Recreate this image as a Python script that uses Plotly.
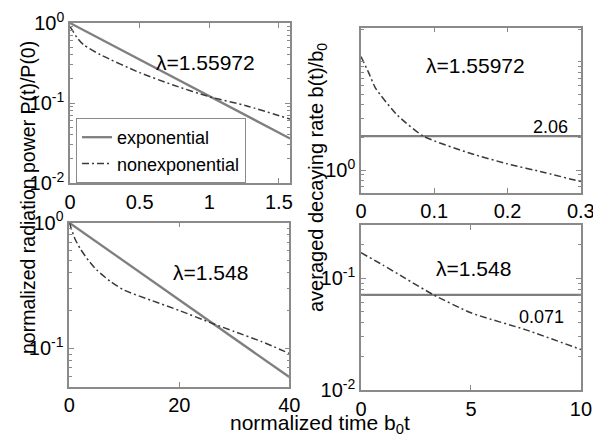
import plotly.graph_objects as go
import math

# ---------------- data ----------------
# top-left: normalized radiation power, lambda = 1.55972
tl_exp_t = [0.0, 1.58]
tl_exp_p = [1.0, 0.036]
tl_non_t = [0.0, 0.02, 0.05, 0.1, 0.22, 0.5, 0.74, 1.0, 1.27, 1.58]
tl_non_p = [0.9, 0.8, 0.66, 0.53, 0.4, 0.24, 0.168, 0.12, 0.092, 0.063]

# top-right: averaged decaying rate, lambda = 1.55972
tr_exp_t = [0.0, 0.3]
tr_exp_b = [2.06, 2.06]
tr_non_t = [0.0, 0.01, 0.02, 0.05, 0.085, 0.15, 0.2, 0.25, 0.3]
tr_non_b = [11.2, 8.1, 5.7, 3.2, 2.06, 1.42, 1.14, 0.95, 0.78]

# bottom-left: normalized radiation power, lambda = 1.548
bl_exp_t = [0.0, 40.0]
bl_exp_p = [1.0, 0.059]
bl_non_t = [0, 1, 2, 3.5, 5, 7.5, 10, 15, 20, 26, 30, 35, 40]
bl_non_p = [1.0, 0.75, 0.62, 0.5, 0.42, 0.34, 0.29, 0.24, 0.20, 0.158, 0.136, 0.113, 0.091]

# bottom-right: averaged decaying rate, lambda = 1.548
br_exp_t = [0.0, 10.0]
br_exp_b = [0.071, 0.071]
br_non_t = [0, 1, 2, 3.3, 5, 7.5, 10]
br_non_b = [0.169, 0.131, 0.1, 0.071, 0.049, 0.0345, 0.023]

series_names = ["exponential", "nonexponential"]
lambda_labels = ["λ=1.55972", "λ=1.548"]
rate_labels = ["2.06", "0.071"]

tl_xticks = [0, 0.5, 1, 1.5]
tr_xticks = [0, 0.1, 0.2, 0.3]
bl_xticks = [0, 20, 40]
br_xticks = [0, 5, 10]
tl_yticks = [1, 0.1, 0.01]
tr_yticks = [1]
bl_yticks = [1, 0.1]
br_yticks = [0.1, 0.01]

# ---------------- styling ----------------
W, H = 593, 441
FONT = "Liberation Sans, Arial, sans-serif"
EXP_COLOR = "#7f7f7f"
NON_COLOR = "#3a3a3a"
AX_COLOR = "#8a8a8a"
NON_DASH = "7px,3px,2px,3px"


def px_x(p):
    return p / W


def px_y(p):
    return 1 - p / H


def pow_label(v):
    e = int(round(math.log10(v)))
    return "10<sup>%d</sup>" % e


def fmt(v):
    return "%g" % v


fig = go.Figure()

panels = [
    ("x", "y", tl_exp_t, tl_exp_p, tl_non_t, tl_non_p, True),
    ("x2", "y2", tr_exp_t, tr_exp_b, tr_non_t, tr_non_b, False),
    ("x3", "y3", bl_exp_t, bl_exp_p, bl_non_t, bl_non_p, False),
    ("x4", "y4", br_exp_t, br_exp_b, br_non_t, br_non_b, False),
]
for xa, ya, et, ev, nt, nv, show in panels:
    fig.add_trace(go.Scatter(x=et, y=ev, xaxis=xa, yaxis=ya, mode="lines",
                             name=series_names[0], showlegend=show,
                             line=dict(color=EXP_COLOR, width=2.3)))
    fig.add_trace(go.Scatter(x=nt, y=nv, xaxis=xa, yaxis=ya, mode="lines",
                             name=series_names[1], showlegend=show,
                             line=dict(color=NON_COLOR, width=1.5, dash=NON_DASH,
                                       shape="spline", smoothing=0.6)))

common_x = dict(ticks="inside", ticklen=5, tickcolor=AX_COLOR, showline=True,
                linecolor=AX_COLOR, linewidth=1.5, mirror="ticks", showgrid=False,
                zeroline=False, tickfont=dict(size=20, color="black", family=FONT),
                tickmode="array", automargin=False, ticklabeloverflow="allow")
common_y = dict(type="log", ticks="inside", ticklen=5, tickcolor=AX_COLOR, showline=True,
                linecolor=AX_COLOR, linewidth=1.5, mirror="ticks", showgrid=False,
                zeroline=False, tickfont=dict(size=20, color="black", family=FONT),
                tickmode="array", automargin=False, ticklabeloverflow="allow",
                minor=dict(ticks="inside", ticklen=3, tickcolor=AX_COLOR, dtick="D1",
                           showgrid=False))

fig.update_layout(
    width=W, height=H, margin=dict(l=0, r=0, t=0, b=0, pad=0),
    paper_bgcolor="white", plot_bgcolor="white",
    font=dict(family=FONT, size=20, color="black"),
    xaxis=dict(common_x, domain=[px_x(70), px_x(290)], range=[0, 1.58], anchor="y",
               tickvals=tl_xticks, ticktext=[fmt(v) for v in tl_xticks]),
    yaxis=dict(common_y, domain=[px_y(183), px_y(23)], range=[-2.0005, 0.0005], anchor="x",
               tickvals=tl_yticks, ticktext=[pow_label(v) for v in tl_yticks]),
    xaxis2=dict(common_x, domain=[px_x(361), px_x(581)], range=[0, 0.3002], anchor="y2",
                tickvals=tr_xticks, ticktext=[fmt(v) for v in tr_xticks]),
    yaxis2=dict(common_y, domain=[px_y(192.7), px_y(27.7)], range=[-0.21, 1.317], anchor="x2",
                tickvals=tr_yticks, ticktext=[pow_label(v) for v in tr_yticks]),
    xaxis3=dict(common_x, domain=[px_x(69.3), px_x(289.3)], range=[0, 40.01], anchor="y3",
                tickvals=bl_xticks, ticktext=[fmt(v) for v in bl_xticks]),
    yaxis3=dict(common_y, domain=[px_y(386.7), px_y(222.7)], range=[-1.306, 0.0005], anchor="x3",
                tickvals=bl_yticks, ticktext=[pow_label(v) for v in bl_yticks]),
    xaxis4=dict(common_x, domain=[px_x(361), px_x(581)], range=[0, 10.003], anchor="y4",
                tickvals=br_xticks, ticktext=[fmt(v) for v in br_xticks]),
    yaxis4=dict(common_y, domain=[px_y(390), px_y(225)], range=[-2.0005, -0.524], anchor="x4",
                tickvals=br_yticks, ticktext=[pow_label(v) for v in br_yticks]),
    legend=dict(x=px_x(76), y=px_y(183), xanchor="left", yanchor="bottom",
                bordercolor=AX_COLOR, borderwidth=1, bgcolor="white",
                font=dict(size=18, family=FONT, color="black"),
                tracegroupgap=0, itemwidth=30),
    showlegend=True,
)

annots = [
    (205, 62, lambda_labels[0], 21, 0),
    (475, 65, lambda_labels[0], 21, 0),
    (550, 127, rate_labels[0], 18, 0),
    (211, 272, lambda_labels[1], 21, 0),
    (473, 268, lambda_labels[1], 21, 0),
    (541, 317, rate_labels[1], 18, 0),
    (28, 198, "normalized radiation power P(t)/P(0)", 19.5, -90),
    (317, 177, "averaged decaying rate b(t)/b<sub>0</sub>", 20, -90),
    (320, 424, "normalized time b<sub>0</sub>t", 21, 0),
]
for xp, yp, txt, size, ang in annots:
    fig.add_annotation(x=px_x(xp), y=px_y(yp), xref="paper", yref="paper",
                       text=txt, showarrow=False, textangle=ang,
                       xanchor="center", yanchor="middle",
                       font=dict(size=size, family=FONT, color="black"))

fig.write_html("out.html", config={"displayModeBar": False},
               post_script="document.body.style.margin='0px';")
